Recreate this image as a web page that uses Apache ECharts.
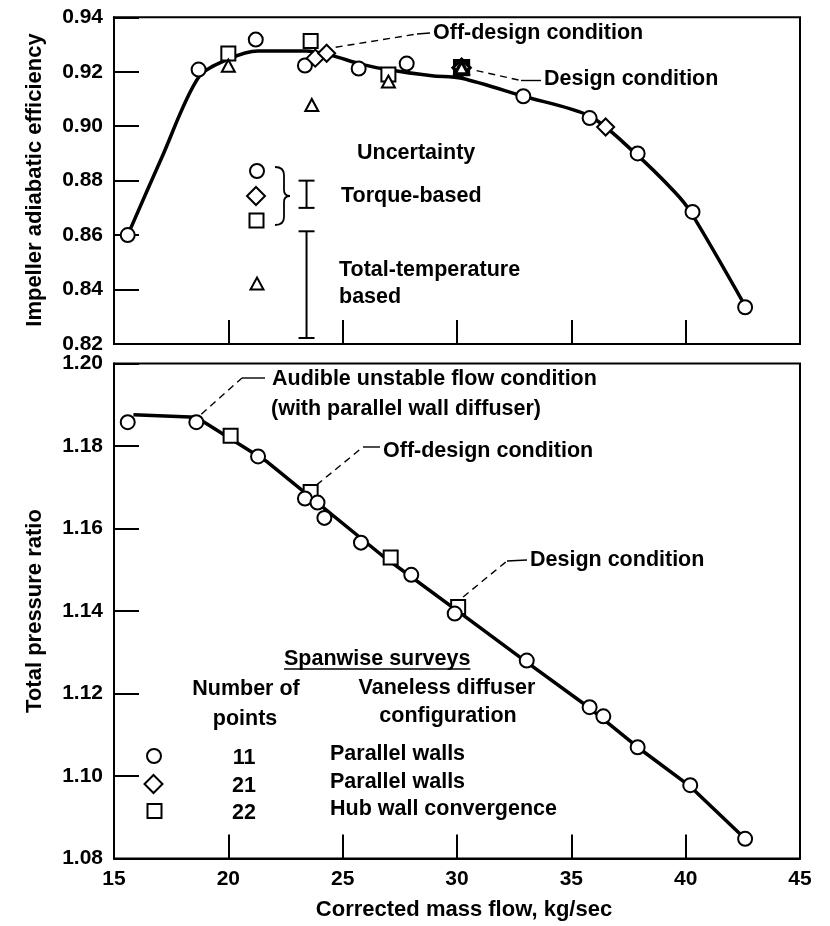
<!DOCTYPE html>
<html><head><meta charset="utf-8">
<script src="https://cdn.jsdelivr.net/npm/echarts@6/dist/echarts.min.js"></script>
<style>html,body{margin:0;padding:0;background:#fff}#c{width:830px;height:926px}</style>
</head><body><div id="c"></div>
<script>
// ---------------- data ----------------
const xTicks = [15, 20, 25, 30, 35, 40, 45];
const effTicks = [0.82, 0.84, 0.86, 0.88, 0.90, 0.92, 0.94];
const prTicks = [1.08, 1.10, 1.12, 1.14, 1.16, 1.18, 1.20];

// Impeller adiabatic efficiency (top panel)
const effCurveX = [15.6, 17.1, 18.7, 20.0, 21.3, 23.4, 24.5, 25.8, 27.0, 28.9, 30.2, 32.9, 35.8, 37.8, 39.5, 40.2, 42.6];
const effCurveY = [0.860, 0.8887, 0.918, 0.9246, 0.9276, 0.9276, 0.926, 0.9228, 0.9207, 0.9185, 0.9176, 0.911, 0.9037, 0.890, 0.876, 0.8687, 0.834];
const effCircleX = [15.6, 18.7, 21.2, 23.35, 25.7, 27.8, 32.9, 35.8, 37.9, 40.3, 42.6];
const effCircleY = [0.860, 0.9208, 0.9318, 0.9223, 0.9212, 0.9230, 0.9110, 0.9030, 0.8900, 0.8685, 0.8335];
const effSquareX = [20.0, 23.6, 27.0, 30.2];
const effSquareY = [0.9267, 0.9313, 0.9190, 0.9215];
const effDiamondX = [23.8, 24.3, 30.2, 36.5];
const effDiamondY = [0.9250, 0.9268, 0.9215, 0.8997];
const effTriangleX = [20.0, 23.65, 27.0, 30.2];
const effTriangleY = [0.9222, 0.9078, 0.9164, 0.9215];
// uncertainty bands (torque-based, total-temperature based)
const uncCenter = [0.875, 0.8418];
const uncHalf = [0.005, 0.0196];

// Total pressure ratio (bottom panel)
const prCurveX = [15.85, 18.6, 21.7, 26.7, 30.3, 33.0, 35.8, 37.9, 40.2, 42.6];
const prCurveY = [1.1876, 1.1870, 1.1762, 1.1536, 1.1389, 1.1278, 1.1165, 1.1070, 1.0975, 1.0848];
const prCircleX = [15.6, 18.6, 21.3, 23.35, 23.9, 24.2, 25.8, 28.0, 29.9, 33.05, 35.8, 36.4, 37.9, 40.2, 42.6];
const prCircleY = [1.1858, 1.1858, 1.1775, 1.1673, 1.1663, 1.1626, 1.1566, 1.1488, 1.1394, 1.1280, 1.1167, 1.1145, 1.1070, 1.0978, 1.0848];
const prSquareX = [20.1, 23.6, 27.1, 30.05];
const prSquareY = [1.1825, 1.1689, 1.1530, 1.1410];

// legend table
const legendCounts = ['11', '21', '22'];
const legendConfigs = ['Parallel walls', 'Parallel walls', 'Hub wall convergence'];

// ---------------- chart ----------------
const FONT = '"Liberation Sans", Arial, Helvetica, sans-serif';
const TXT = 'bold 21.5px ' + FONT;
const zip = (xs, ys) => xs.map((x, i) => [x, ys[i]]);
const open = { color: '#fff', borderColor: '#000', borderWidth: 2, opacity: 1 };
const chart = echarts.init(document.getElementById('c'));

function xAxis(grid, labels) {
  return {
    gridIndex: grid, type: 'value', min: xTicks[0], max: xTicks[xTicks.length - 1], interval: 5,
    axisLine: { show: true, onZero: false, lineStyle: { color: '#000', width: 2 } },
    axisTick: { show: true, inside: true, length: 24, lineStyle: { color: '#000', width: 2 } },
    axisLabel: { show: labels, margin: 10, color: '#000', fontSize: 21, fontWeight: 'bold', fontFamily: FONT },
    splitLine: { show: false }
  };
}
function yAxis(grid, ticks) {
  return {
    gridIndex: grid, type: 'value', min: ticks[0], max: ticks[ticks.length - 1], interval: 0.02,
    axisLine: { show: true, onZero: false, lineStyle: { color: '#000', width: 2 } },
    axisTick: { show: true, inside: true, length: 25, lineStyle: { color: '#000', width: 2 } },
    axisLabel: { margin: 11, color: '#000', fontSize: 21, fontWeight: 'bold', fontFamily: FONT,
      formatter: v => v.toFixed(2) },
    splitLine: { show: false }
  };
}
function pts(xs, ys, design) {
  return xs.map((x, i) => {
    if (design !== undefined && Math.abs(x - design) < 1e-9) {
      return { value: [x, ys[i]], itemStyle: { borderWidth: 3.2 } };
    }
    return [x, ys[i]];
  });
}

const option = {
  animation: false,
  backgroundColor: '#fff',
  grid: [
    { left: 114, right: 30, top: 17.3, height: 326.7, show: true, borderColor: '#000', borderWidth: 2 },
    { left: 114, right: 30, top: 363.6, height: 495, show: true, borderColor: '#000', borderWidth: 2 }
  ],
  xAxis: [xAxis(0, false), xAxis(1, true)],
  yAxis: [yAxis(0, effTicks), yAxis(1, prTicks)],
  series: [
    { type: 'line', xAxisIndex: 0, yAxisIndex: 0, data: zip(effCurveX, effCurveY), smooth: 0.3,
      symbol: 'none', lineStyle: { color: '#000', width: 3.5 }, z: 2, silent: true },
    { type: 'scatter', xAxisIndex: 0, yAxisIndex: 0, data: zip(effCircleX, effCircleY), symbol: 'circle',
      symbolSize: 14, itemStyle: open, z: 4, silent: true },
    { type: 'scatter', xAxisIndex: 0, yAxisIndex: 0, data: pts(effSquareX, effSquareY, 30.2), symbol: 'rect',
      symbolSize: 14, itemStyle: open, z: 4, silent: true },
    { type: 'scatter', xAxisIndex: 0, yAxisIndex: 0, data: pts(effDiamondX, effDiamondY, 30.2), symbol: 'diamond',
      symbolSize: 17, itemStyle: open, z: 5, silent: true },
    { type: 'scatter', xAxisIndex: 0, yAxisIndex: 0, data: pts(effTriangleX, effTriangleY, 30.2), symbol: 'triangle',
      symbolSize: [13, 12], itemStyle: open, z: 6, silent: true },
    { type: 'custom', xAxisIndex: 0, yAxisIndex: 0, silent: true, z: 3,
      data: uncCenter.map((c, i) => [23.42, c - uncHalf[i], c + uncHalf[i]]),
      encode: { x: 0, y: [1, 2] },
      renderItem: function (params, api) {
        const lo = api.coord([api.value(0), api.value(1)]);
        const hi = api.coord([api.value(0), api.value(2)]);
        const w = 8, st = { stroke: '#000', lineWidth: 2 };
        return { type: 'group', children: [
          { type: 'line', shape: { x1: lo[0], y1: lo[1], x2: hi[0], y2: hi[1] }, style: st },
          { type: 'line', shape: { x1: lo[0] - w, y1: lo[1], x2: lo[0] + w, y2: lo[1] }, style: st },
          { type: 'line', shape: { x1: hi[0] - w, y1: hi[1], x2: hi[0] + w, y2: hi[1] }, style: st }
        ] };
      }
    },
    { type: 'line', xAxisIndex: 1, yAxisIndex: 1, data: zip(prCurveX, prCurveY), smooth: false,
      symbol: 'none', lineStyle: { color: '#000', width: 3.5 }, z: 2, silent: true },
    { type: 'scatter', xAxisIndex: 1, yAxisIndex: 1, data: zip(prCircleX, prCircleY), symbol: 'circle',
      symbolSize: 14, itemStyle: open, z: 4, silent: true },
    { type: 'scatter', xAxisIndex: 1, yAxisIndex: 1, data: zip(prSquareX, prSquareY), symbol: 'rect',
      symbolSize: 14, itemStyle: open, z: 3, silent: true }
  ]
};
chart.setOption(option);

// ---------------- annotations ----------------
const g = [];
function text(t, x, y, align, font, rot) {
  g.push({ type: 'text', x: x, y: y, rotation: rot || 0, z: 10, silent: true,
    style: { text: t, font: font || TXT, fill: '#000', align: align || 'left', verticalAlign: 'middle',
             textAlign: align || 'left', textVerticalAlign: 'middle' } });
}
const S = { fill: '#fff', stroke: '#000', lineWidth: 2 };
function circleK(x, y) { g.push({ type: 'circle', shape: { cx: x, cy: y, r: 7 }, style: S, z: 10 }); }
function squareK(x, y) { g.push({ type: 'rect', shape: { x: x - 7, y: y - 7, width: 14, height: 14 }, style: S, z: 10 }); }
function diamondK(x, y) { g.push({ type: 'polygon', shape: { points: [[x, y - 9], [x + 9, y], [x, y + 9], [x - 9, y]] }, style: S, z: 10 }); }
function triangleK(x, y) { g.push({ type: 'polygon', shape: { points: [[x, y - 6], [x + 6.5, y + 6], [x - 6.5, y + 6]] }, style: S, z: 10 }); }
function seg(x1, y1, x2, y2, w) {
  g.push({ type: 'line', shape: { x1: x1, y1: y1, x2: x2, y2: y2 }, style: { stroke: '#000', lineWidth: w || 1.8 }, z: 10, silent: true });
}
function qc(x1, y1, cx, cy, x2, y2) {
  g.push({ type: 'bezierCurve', shape: { x1: x1, y1: y1, cpx1: cx, cpy1: cy, x2: x2, y2: y2 },
    style: { stroke: '#000', lineWidth: 1.8, fill: null }, z: 10, silent: true });
}

function leader(grid, anchor, off, bend, end) {
  const p = chart.convertToPixel({ gridIndex: grid }, anchor);
  const s = [p[0] + off[0], p[1] + off[1]];
  g.push({ type: 'polyline', shape: { points: [s, bend] }, style: { stroke: '#000', lineWidth: 1.4, lineDash: [7, 5], fill: null }, z: 9, silent: true });
  g.push({ type: 'polyline', shape: { points: [bend, end] }, style: { stroke: '#000', lineWidth: 1.4, fill: null }, z: 9, silent: true });
}

// top panel
leader(0, [24.3, 0.9268], [9, -6], [417, 34], [430, 33]);
text('Off-design condition', 433, 33);
leader(0, [30.2, 0.9215], [15, 3], [521, 80.5], [541, 80.5]);
text('Design condition', 544, 79);
text('Uncertainty', 357, 153);
text('Torque-based', 341, 196);
text('Total-temperature', 339, 270);
text('based', 339, 297);
circleK(257, 171); diamondK(256, 196); squareK(256.5, 220.5); triangleK(257, 283.5);
// brace
qc(275, 167, 284, 167, 284, 175);
seg(284, 175, 284, 190);
qc(284, 190, 284, 196, 290, 196);
qc(290, 196, 284, 196, 284, 202);
seg(284, 202, 284, 217);
qc(284, 217, 284, 225, 275, 225);

// bottom panel
leader(1, [18.6, 1.1858], [5, -8], [242, 378], [265, 378]);
text('Audible unstable flow condition', 272, 379);
text('(with parallel wall diffuser)', 271, 409);
leader(1, [23.6, 1.1689], [6, -7], [363, 447], [380, 447]);
text('Off-design condition', 383, 451);
leader(1, [30.05, 1.141], [5, -10], [507, 561], [527, 560]);
text('Design condition', 530, 560);

text('Spanwise surveys', 284, 659);
(function () {
  const ctx = document.createElement('canvas').getContext('2d');
  ctx.font = TXT;
  const w = ctx.measureText('Spanwise surveys').width;
  seg(284, 669, 284 + w, 669, 1.6);
})();
text('Number of', 246, 689, 'center');
text('points', 245, 719, 'center');
text('Vaneless diffuser', 447, 688, 'center');
text('configuration', 448, 716, 'center');
const rowY = [756, 784, 811];
legendCounts.forEach((c, i) => text(c, 244, rowY[i] + 2, 'center'));
legendConfigs.forEach((c, i) => text(c, 330, rowY[i] - 2));
circleK(154, rowY[0]); diamondK(153.5, rowY[1]); squareK(154.5, rowY[2]);

// axis titles
const TT = 'bold 22px ' + FONT;
text('Impeller adiabatic efficiency', 35, 180, 'center', TT, Math.PI / 2);
text('Total pressure ratio', 35, 611, 'center', TT, Math.PI / 2);
text('Corrected mass flow, kg/sec', 464, 910, 'center', TT);

chart.setOption({ graphic: { elements: g } });
</script>
</body></html>
